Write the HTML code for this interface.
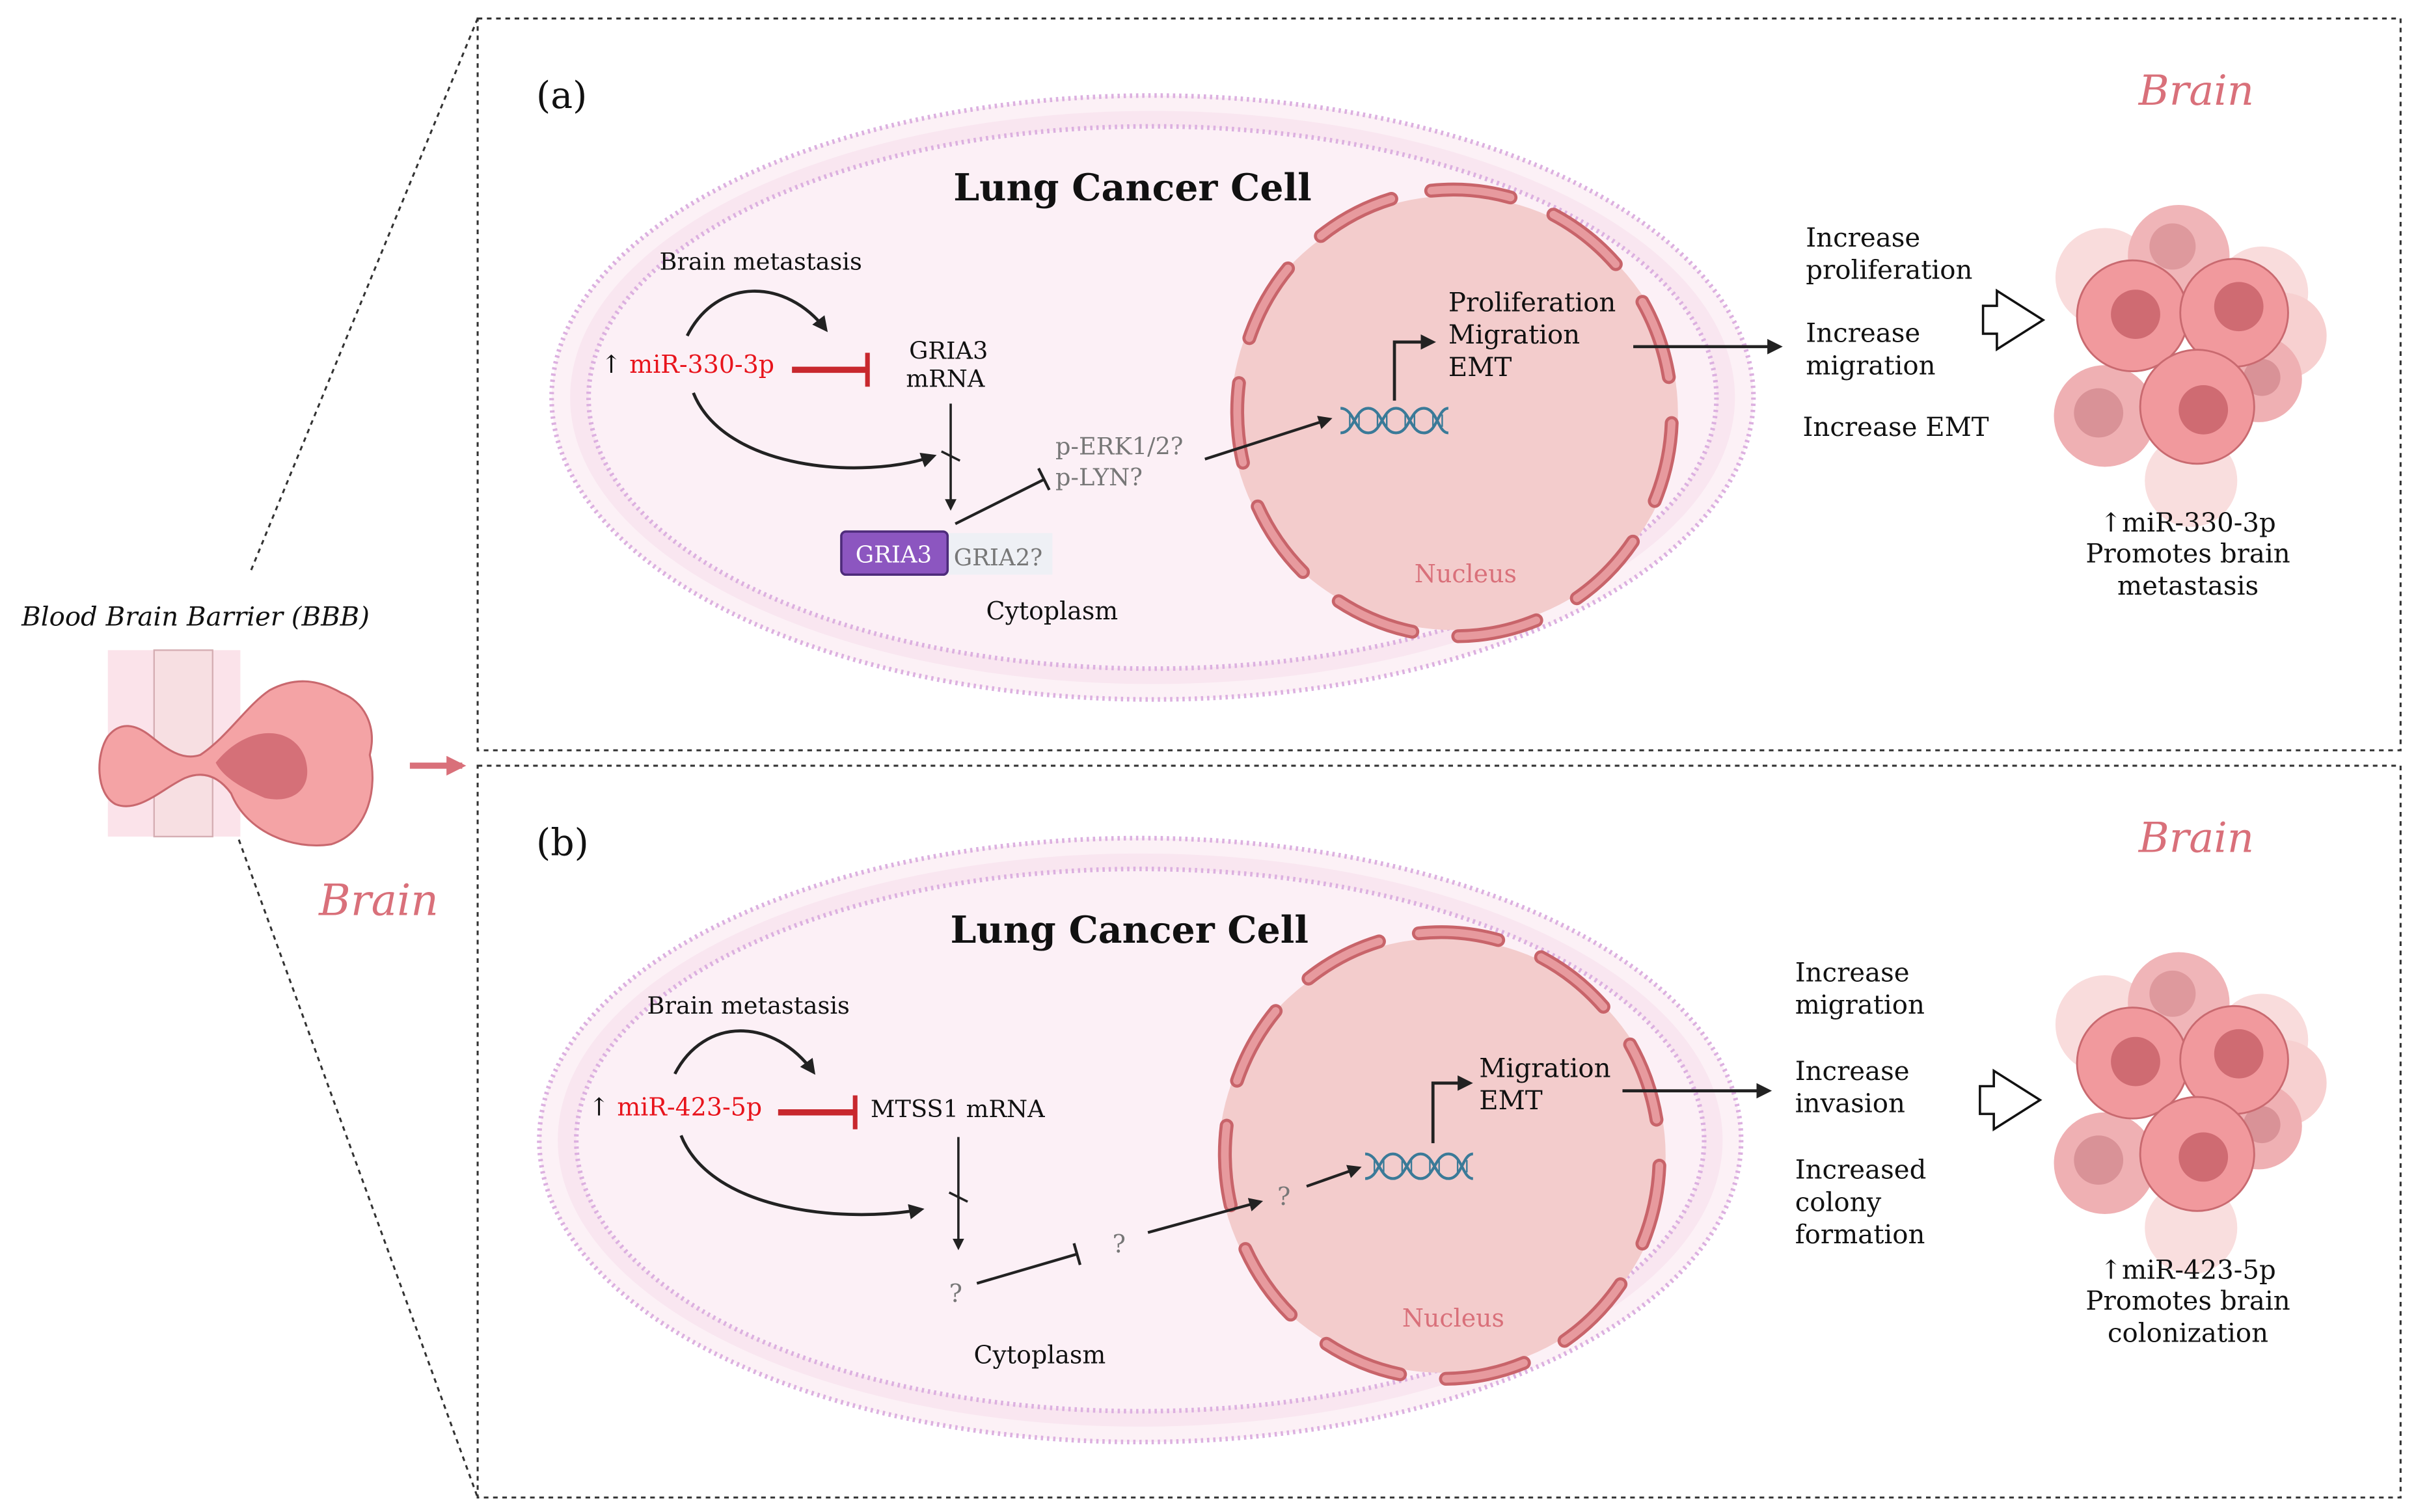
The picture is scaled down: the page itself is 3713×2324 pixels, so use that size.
<!DOCTYPE html>
<html><head><meta charset="utf-8"><style>
html,body{margin:0;padding:0;background:#fff;}
svg{display:block;}
text{font-family:"DejaVu Serif","Liberation Serif",serif;}
</style></head><body>
<svg width="3713" height="2324" viewBox="0 0 1568 981.4" preserveAspectRatio="none" xmlns="http://www.w3.org/2000/svg">
<defs>
<marker id="ah" viewBox="0 0 10 10" refX="8" refY="5" markerWidth="5" markerHeight="5" orient="auto"><path d="M0,0 L10,5 L0,10 z" fill="#222"/></marker>
<marker id="ahp" viewBox="0 0 10 10" refX="8" refY="5" markerWidth="3.2" markerHeight="3.2" orient="auto"><path d="M0,0 L10,5 L0,10 z" fill="#d9707a"/></marker>
<g id="tumor">
  <circle cx="1366" cy="180" r="32" fill="#f9dcdc"/>
  <circle cx="1468" cy="190" r="30" fill="#f9dcdc"/>
  <circle cx="1482" cy="218" r="28" fill="#f7d0d0"/>
  <circle cx="1422" cy="312" r="30" fill="#f9dede"/>
  <circle cx="1414" cy="166" r="33" fill="#f0b5b8"/>
  <circle cx="1410" cy="160" r="15" fill="#de999d"/>
  <circle cx="1366" cy="270" r="33" fill="#efb0b3"/>
  <circle cx="1362" cy="268" r="16" fill="#d99297"/>
  <circle cx="1466" cy="246" r="28" fill="#efb0b3"/>
  <circle cx="1468" cy="245" r="12" fill="#d99297"/>
  <circle cx="1384" cy="205" r="36" fill="#f1999d" stroke="#c96a70" stroke-width="1.2"/>
  <circle cx="1386" cy="204" r="16" fill="#cf6b72"/>
  <circle cx="1450" cy="203" r="35" fill="#f1999d" stroke="#c96a70" stroke-width="1.2"/>
  <circle cx="1453" cy="199" r="16" fill="#cf6b72"/>
  <circle cx="1426" cy="264" r="37" fill="#f1999d" stroke="#c96a70" stroke-width="1.2"/>
  <circle cx="1430" cy="266" r="16" fill="#cf6b72"/>
</g>
<g id="cellbg">
  <ellipse cx="748" cy="258" rx="390" ry="196" fill="#fcf1f6" stroke="#dcb0e0" stroke-width="3" stroke-dasharray="1.5 2.5"/>
  <ellipse cx="748" cy="258" rx="378" ry="186" fill="#f9e6f0"/>
  <ellipse cx="748" cy="258" rx="366" ry="176" fill="#fcf0f6" stroke="#dcb0e0" stroke-width="3" stroke-dasharray="1.5 2.5"/>
</g>
<g id="nuc">
  <ellipse cx="0" cy="0" rx="145" ry="141" fill="#f3cccc"/>
  <ellipse cx="0" cy="0" rx="145" ry="141" fill="none" stroke="#c8646a" stroke-width="9" stroke-dasharray="52 30" stroke-linecap="round" transform="rotate(-96)"/>
  <ellipse cx="0" cy="0" rx="145" ry="141" fill="none" stroke="#e79a9e" stroke-width="5" stroke-dasharray="52 30" stroke-linecap="round" transform="rotate(-96)"/>
</g>
<g id="dna" fill="none" stroke="#3a7a98" stroke-width="1.8">
  <path d="M0,-8 C9,-8 9,8 18,8 C27,8 27,-8 36,-8 C45,-8 45,8 54,8 C63,8 63,-8 70,-8"/>
  <path d="M0,8 C9,8 9,-8 18,-8 C27,-8 27,8 36,8 C45,8 45,-8 54,-8 C63,-8 63,8 70,8"/>
  <path d="M6,-4 v8 M12,-4v8 M24,-4v8 M30,-4v8 M42,-4v8 M48,-4v8 M60,-4v8 M66,-4v8" stroke-width="1"/>
</g>
</defs>

<g fill="none" stroke="#333" stroke-width="1.3" stroke-dasharray="3 3">
<rect x="310" y="12" width="1248" height="475"/>
<rect x="310" y="497" width="1248" height="475"/>
<line x1="310" y1="12" x2="163" y2="370"/>
<line x1="155" y1="545" x2="310" y2="972"/>
</g>

<text x="14" y="406" font-size="17" font-style="italic" fill="#111">Blood Brain Barrier (BBB)</text>
<rect x="70" y="422" width="86" height="121" fill="#fbe3ea"/>
<rect x="100" y="422" width="38" height="121" fill="#f7dfe2" stroke="#d5aeb3" stroke-width="1"/>
<path d="M70,478 C62,490 62,515 75,522 C90,528 105,512 120,505 C132,500 142,504 150,515 C160,540 190,552 215,548 C240,540 245,510 240,490 C245,470 235,455 222,450 C205,440 190,440 175,448 C160,458 148,478 130,490 C118,494 108,486 98,478 C88,470 78,468 70,478 Z" fill="#f4a3a5" stroke="#c9686e" stroke-width="1.3"/>
<path d="M140,495 C160,470 190,470 198,492 C204,512 190,522 172,518 C158,512 145,505 140,495 Z" fill="#d57078"/>
<line x1="266" y1="497" x2="300" y2="497" stroke="#d9707a" stroke-width="4" marker-end="url(#ahp)"/>
<text x="207" y="594" font-size="28" font-style="italic" fill="#d9707a">Brain</text>

<!-- PANEL A -->
<text x="348" y="70" font-size="24" fill="#111">(a)</text>
<text x="1388" y="68" font-size="27" font-style="italic" fill="#d9707a">Brain</text>
<use href="#cellbg"/>
<use href="#nuc" transform="translate(944,268)"/>
<text x="735" y="130" font-size="24" font-weight="bold" text-anchor="middle" fill="#111">Lung Cancer Cell</text>
<text x="428" y="175" font-size="15.5" fill="#111">Brain metastasis</text>
<text x="390" y="242" font-size="16" fill="#111">↑ <tspan fill="#e8141c">miR-330-3p</tspan></text>
<line x1="514" y1="240" x2="563" y2="240" stroke="#c8282e" stroke-width="4"/>
<line x1="563" y1="229" x2="563" y2="251" stroke="#c8282e" stroke-width="3"/>
<text x="590" y="233" font-size="15.5" fill="#111">GRIA3</text>
<text x="588" y="251" font-size="15.5" fill="#111">mRNA</text>
<path d="M446,218 C465,180 510,180 536,214" fill="none" stroke="#222" stroke-width="2" marker-end="url(#ah)"/>
<path d="M450,255 C470,305 560,312 606,296" fill="none" stroke="#222" stroke-width="2" marker-end="url(#ah)"/>
<line x1="617" y1="262" x2="617" y2="330" stroke="#222" stroke-width="1.5" marker-end="url(#ah)"/>
<line x1="611" y1="293" x2="623" y2="299" stroke="#222" stroke-width="1.5"/>
<line x1="620" y1="340" x2="678" y2="311" stroke="#222" stroke-width="1.8"/>
<line x1="674" y1="304" x2="681" y2="318" stroke="#222" stroke-width="1.8"/>
<text x="685" y="295" font-size="15.5" fill="#777">p-ERK1/2?</text>
<text x="685" y="315" font-size="15.5" fill="#777">p-LYN?</text>
<line x1="782" y1="298" x2="863" y2="272" stroke="#222" stroke-width="1.8" marker-end="url(#ah)"/>
<use href="#dna" transform="translate(870,273)"/>
<path d="M905,260 V222 H930" fill="none" stroke="#222" stroke-width="2" marker-end="url(#ah)"/>
<text x="940" y="202" font-size="17" fill="#111">Proliferation</text>
<text x="940" y="223" font-size="17" fill="#111">Migration</text>
<text x="940" y="244" font-size="17" fill="#111">EMT</text>
<line x1="1060" y1="225" x2="1155" y2="225" stroke="#222" stroke-width="2" marker-end="url(#ah)"/>
<rect x="613" y="346" width="70" height="27" fill="#eef0f5"/>
<rect x="546" y="345" width="69" height="28" rx="3" fill="#8c56c0" stroke="#4d2b7a" stroke-width="1.5"/>
<text x="580" y="365" font-size="15" fill="#fff" text-anchor="middle">GRIA3</text>
<text x="619" y="367" font-size="15" fill="#777">GRIA2?</text>
<text x="640" y="402" font-size="16" fill="#111">Cytoplasm</text>
<text x="918" y="378" font-size="16" fill="#d9707a">Nucleus</text>
<text x="1172" y="160" font-size="17" fill="#111">Increase</text>
<text x="1172" y="181" font-size="17" fill="#111">proliferation</text>
<text x="1172" y="222" font-size="17" fill="#111">Increase</text>
<text x="1172" y="243" font-size="17" fill="#111">migration</text>
<text x="1170" y="283" font-size="17" fill="#111">Increase EMT</text>
<path d="M1287,198.5 H1296 V188.7 L1326,207.7 L1296,226.7 V216.6 H1287 Z" fill="#fff" stroke="#111" stroke-width="1.5"/>
<use href="#tumor"/>
<text x="1420" y="345" font-size="17" fill="#111" text-anchor="middle">↑miR-330-3p</text>
<text x="1420" y="365" font-size="17" fill="#111" text-anchor="middle">Promotes brain</text>
<text x="1420" y="386" font-size="17" fill="#111" text-anchor="middle">metastasis</text>

<!-- PANEL B -->
<text x="348" y="555" font-size="24" fill="#111">(b)</text>
<text x="1388" y="553" font-size="27" font-style="italic" fill="#d9707a">Brain</text>
<use href="#cellbg" transform="translate(-8,482)"/>
<use href="#nuc" transform="translate(936,750)"/>
<text x="733" y="612" font-size="24" font-weight="bold" text-anchor="middle" fill="#111">Lung Cancer Cell</text>
<text x="420" y="658" font-size="15.5" fill="#111">Brain metastasis</text>
<text x="382" y="724" font-size="16" fill="#111">↑ <tspan fill="#e8141c">miR-423-5p</tspan></text>
<line x1="505" y1="722" x2="555" y2="722" stroke="#c8282e" stroke-width="4"/>
<line x1="555" y1="711" x2="555" y2="733" stroke="#c8282e" stroke-width="3"/>
<text x="565" y="725" font-size="15.5" fill="#111">MTSS1 mRNA</text>
<path d="M438,697 C457,660 502,660 528,696" fill="none" stroke="#222" stroke-width="2" marker-end="url(#ah)"/>
<path d="M442,737 C462,787 550,794 598,785" fill="none" stroke="#222" stroke-width="2" marker-end="url(#ah)"/>
<line x1="622" y1="738" x2="622" y2="810" stroke="#222" stroke-width="1.5" marker-end="url(#ah)"/>
<line x1="616" y1="774" x2="628" y2="780" stroke="#222" stroke-width="1.5"/>
<text x="616" y="845" font-size="16" fill="#777">?</text>
<line x1="634" y1="833" x2="699" y2="814" stroke="#222" stroke-width="1.8"/>
<line x1="697" y1="807" x2="701" y2="821" stroke="#222" stroke-width="1.8"/>
<text x="722" y="813" font-size="16" fill="#777">?</text>
<line x1="745" y1="800" x2="818" y2="780" stroke="#222" stroke-width="1.8" marker-end="url(#ah)"/>
<text x="829" y="782" font-size="16" fill="#777">?</text>
<line x1="848" y1="770" x2="882" y2="758" stroke="#222" stroke-width="1.8" marker-end="url(#ah)"/>
<use href="#dna" transform="translate(886,757)"/>
<path d="M930,742 V703 H954" fill="none" stroke="#222" stroke-width="2" marker-end="url(#ah)"/>
<text x="960" y="699" font-size="17" fill="#111">Migration</text>
<text x="960" y="720" font-size="17" fill="#111">EMT</text>
<line x1="1053" y1="708" x2="1148" y2="708" stroke="#222" stroke-width="2" marker-end="url(#ah)"/>
<text x="632" y="885" font-size="16" fill="#111">Cytoplasm</text>
<text x="910" y="861" font-size="16" fill="#d9707a">Nucleus</text>
<text x="1165" y="637" font-size="17" fill="#111">Increase</text>
<text x="1165" y="658" font-size="17" fill="#111">migration</text>
<text x="1165" y="701" font-size="17" fill="#111">Increase</text>
<text x="1165" y="722" font-size="17" fill="#111">invasion</text>
<text x="1165" y="765" font-size="17" fill="#111">Increased</text>
<text x="1165" y="786" font-size="17" fill="#111">colony</text>
<text x="1165" y="807" font-size="17" fill="#111">formation</text>
<path d="M1285,705 H1294 V695 L1324,714 L1294,733 V723 H1285 Z" fill="#fff" stroke="#111" stroke-width="1.5"/>
<use href="#tumor" transform="translate(0,485)"/>
<text x="1420" y="830" font-size="17" fill="#111" text-anchor="middle">↑miR-423-5p</text>
<text x="1420" y="850" font-size="17" fill="#111" text-anchor="middle">Promotes brain</text>
<text x="1420" y="871" font-size="17" fill="#111" text-anchor="middle">colonization</text>
</svg>
</body></html>
